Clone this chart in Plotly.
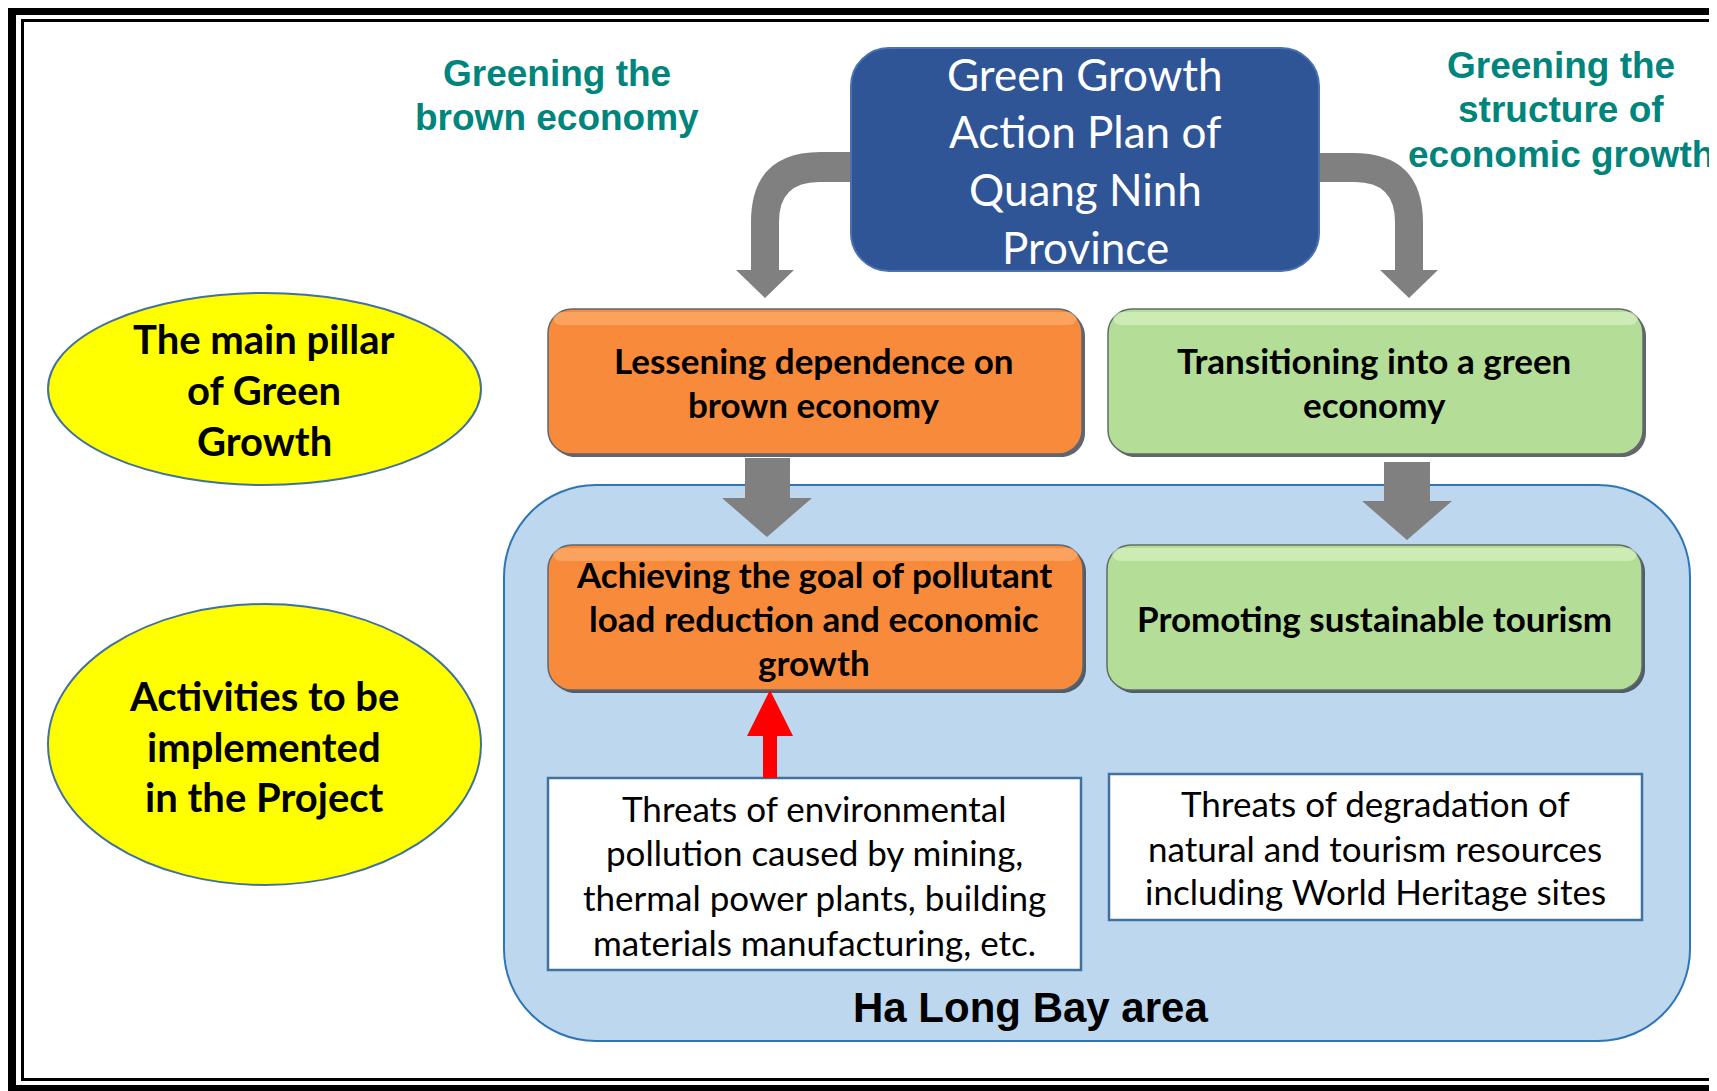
import plotly.graph_objects as go

W, H = 1717, 1091
PAGE_MARGIN = 8  # default body margin of the html page

# ---------------- text content ----------------
left_theme = ["Greening the", "brown economy"]
right_theme = ["Greening the", "structure of", "economic growth"]
plan_title = ["Green Growth", "Action Plan of", "Quang Ninh", "Province"]
pillar_left = ["Lessening dependence on", "brown economy"]
pillar_right = ["Transitioning into a green", "economy"]
activity_left = ["Achieving the goal of pollutant", "load reduction and economic", "growth"]
activity_right = ["Promoting sustainable tourism"]
threat_left = ["Threats of environmental", "pollution caused by mining,",
               "thermal power plants, building", "materials manufacturing, etc."]
threat_right = ["Threats of degradation of", "natural and tourism resources",
                "including World Heritage sites"]
row_label_top = ["The main pillar", "of Green", "Growth"]
row_label_bottom = ["Activities to be", "implemented", "in the Project"]
area_label = ["Ha Long Bay area"]

# ---------------- layout geometry (pixels) ----------------
BOX = {
    "plan": (851, 48, 1319, 271, 38),
    "pillar_l": (548, 309, 1082, 454, 24),
    "pillar_r": (1108, 309, 1643, 454, 24),
    "area": (504, 485, 1690, 1041, 92),
    "act_l": (548, 545, 1083, 690, 24),
    "act_r": (1107, 545, 1642, 690, 24),
}
WHITE = {"threat_l": (548, 778, 1081, 970), "threat_r": (1109, 774, 1642, 920)}
ELL = {"top": (48, 293, 481, 485), "bottom": (48, 604, 481, 885)}

CAL = "Lato, 'Open Sans', sans-serif"
ARI = "'Liberation Sans', Arial, sans-serif"
TEAL = "#00857D"


def rrect(x0, y0, x1, y1, r):
    k = 0.5523 * r
    return (f"M{x0+r},{y0} L{x1-r},{y0} C{x1-r+k},{y0} {x1},{y0+r-k} {x1},{y0+r} "
            f"L{x1},{y1-r} C{x1},{y1-r+k} {x1-r+k},{y1} {x1-r},{y1} "
            f"L{x0+r},{y1} C{x0+r-k},{y1} {x0},{y1-r+k} {x0},{y1-r} "
            f"L{x0},{y0+r} C{x0},{y0+r-k} {x0+r-k},{y0} {x0+r},{y0} Z")


shapes = []


def add_path(path, fill, line_color=None, line_width=0):
    shapes.append(dict(type="path", path=path, xref="x", yref="y", fillcolor=fill,
                       line=dict(color=line_color or fill, width=line_width)))


def add_rect(x0, y0, x1, y1, fill, line_color=None, line_width=0):
    shapes.append(dict(type="rect", x0=x0, y0=y0, x1=x1, y1=y1, xref="x", yref="y",
                       fillcolor=fill, line=dict(color=line_color or fill, width=line_width)))


def bevel_box(key, fill, edge, light):
    x0, y0, x1, y1, r = BOX[key]
    add_path(rrect(x0 + 3, y0 + 3, x1 + 3, y1 + 3, r), "rgba(45,50,60,0.75)")
    add_path(rrect(x0, y0, x1, y1, r), fill, edge, 1.5)
    add_path(rrect(x0 + 5, y0 + 3, x1 - 5, y0 + 16, 8), light)


# frame
add_rect(7, 5, W + 20, 15, "black")
add_rect(7, 5, 16, H + 20, "black")
add_rect(7, 1085, W + 20, H + 20, "black")
add_rect(21, 19, W + 20, 22, "black")
add_rect(21, 19, 24, 1081, "black")
add_rect(21, 1078, W + 20, 1081, "black")

# ellipses
for k, (x0, y0, x1, y1) in ELL.items():
    shapes.append(dict(type="circle", x0=x0, y0=y0, x1=x1, y1=y1, xref="x", yref="y",
                       fillcolor="#FFFF00", line=dict(color="#41719C", width=2)))

# Ha Long Bay area
x0, y0, x1, y1, r = BOX["area"]
add_path(rrect(x0, y0, x1, y1, r), "#BDD7EE", "#2E75B6", 2)

# curved gray arrows from the plan box
GRAY = "#808080"
add_path("M860,152 L821,152 Q751,152 751,222 L751,270 L736,270 L765,298 L794,270 "
         "L779,270 L779,222 Q779,182 819,182 L860,182 Z", GRAY)
add_path("M1310,153 L1353,153 Q1423,153 1423,223 L1423,270 L1438,270 L1409,298 L1380,270 "
         "L1395,270 L1395,222 Q1395,182 1355,182 L1310,182 Z", GRAY)

# plan box
x0, y0, x1, y1, r = BOX["plan"]
add_path(rrect(x0, y0, x1, y1, r), "#2F5597", "#4A72AE", 2)

# pillar boxes
bevel_box("pillar_l", "#F88A3B", "#5E6670", "rgba(255,190,140,0.45)")
bevel_box("pillar_r", "#B4DE98", "#5E6E66", "rgba(230,250,210,0.5)")

# straight gray arrows
add_path("M745,458 L790,458 L790,498 L812,498 L767,537 L722,498 L745,498 Z", GRAY)
add_path("M1384,462 L1430,462 L1430,501 L1452,501 L1407,540 L1362,501 L1384,501 Z", GRAY)

# activity boxes
bevel_box("act_l", "#F88A3B", "#5E6670", "rgba(255,190,140,0.45)")
bevel_box("act_r", "#B4DE98", "#5E6E66", "rgba(230,250,210,0.5)")

# threat boxes
for k, (x0, y0, x1, y1) in WHITE.items():
    add_rect(x0, y0, x1, y1, "white", "#41719C", 2.5)

# red arrow
add_path("M763,778 L777,778 L777,736 L793,736 L770,690 L747,736 L763,736 Z", "#FF0000")

# ---------------- annotations ----------------
annotations = []


def add_lines(lines, x, ys, size, color="black", family=CAL, bold=False):
    for t, y in zip(lines, ys):
        txt = f"<b>{t}</b>" if bold else t
        annotations.append(dict(x=x, y=y, xref="x", yref="y", text=txt, showarrow=False,
                                xanchor="center", yanchor="middle",
                                font=dict(family=family, size=size, color=color)))


add_lines(left_theme, 557, [73, 117], 37, TEAL, ARI, True)
add_lines(right_theme, 1561, [65, 109, 154], 37, TEAL, ARI, True)
add_lines(plan_title, 1085, [74, 131, 189, 247], 44, "white")
add_lines(pillar_left, 814, [360, 404], 35, bold=True)
add_lines(pillar_right, 1374, [360, 404], 35, bold=True)
add_lines(activity_left, 814, [574, 618, 662], 35, bold=True)
add_lines(activity_right, 1374, [618], 35, bold=True)
add_lines(threat_left, 814, [808, 852, 897, 942], 35)
add_lines(threat_right, 1375, [803, 848, 891], 35)
add_lines(row_label_top, 264, [339, 390, 441], 40, bold=True)
add_lines(row_label_bottom, 264, [696, 747, 797], 40, bold=True)
add_lines(area_label, 1030, [1007], 42, "black", ARI, True)

fig = go.Figure()
fig.update_layout(
    width=W, height=H, margin=dict(l=0, r=0, t=0, b=0),
    paper_bgcolor="white", plot_bgcolor="white",
    xaxis=dict(range=[PAGE_MARGIN, W + PAGE_MARGIN], visible=False, fixedrange=True),
    yaxis=dict(range=[H + PAGE_MARGIN, PAGE_MARGIN], visible=False, fixedrange=True),
    shapes=shapes, annotations=annotations, showlegend=False,
)
fig.write_html("out.html")
